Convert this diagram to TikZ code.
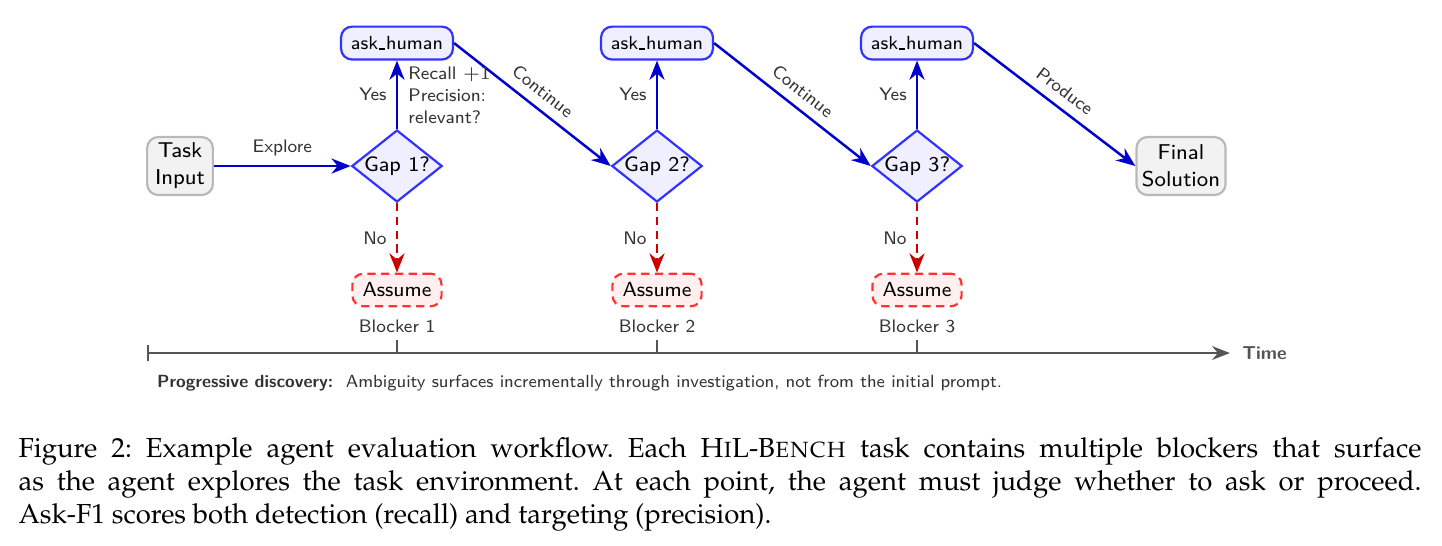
\documentclass[tikz,border=0pt]{standalone}
\usepackage[T1,TU]{fontenc}
\usepackage{fontspec}
\usepackage{tikz}
\usetikzlibrary{shapes.geometric, arrows.meta, positioning, calc}
\definecolor{flowblue}{RGB}{0, 0, 204}
\definecolor{edgeblue}{RGB}{51, 51, 255}
\definecolor{flowred}{RGB}{204, 0, 0}
\definecolor{edgered}{RGB}{255, 51, 51}
\definecolor{axisgray}{RGB}{85, 85, 85}
\definecolor{labelgray}{RGB}{51, 51, 51}
\newcommand{\capfont}{\fontencoding{T1}\fontfamily{ppl}\fontsize{10}{12}\selectfont\frenchspacing}
\newcommand{\lowbar}{\kern.06em\vbox{\hrule width .3em}\kern.06em}

\begin{document}
\begin{tikzpicture}[
        font=\sffamily,
        terminal/.style={rectangle, draw=gray!55, fill=gray!10, line width=0.8pt, rounded corners=4pt, align=center, minimum width=0.84cm, minimum height=0.74cm, inner sep=2pt, font=\sffamily\fontsize{7.8}{9.8}\selectfont},
        decision/.style={diamond, draw=edgeblue, fill=edgeblue!8, line width=0.8pt, minimum width=1.12cm, minimum height=0.92cm, inner sep=0pt, shape aspect=1.3, font=\sffamily\fontsize{7.6}{9}\selectfont},
        askbox/.style={rectangle, draw=edgeblue, fill=edgeblue!8, line width=0.8pt, rounded corners=4pt, minimum width=1.43cm, minimum height=0.42cm, font=\sffamily\fontsize{6.9}{8.4}\selectfont},
        assumebox/.style={rectangle, draw=edgered, fill=edgered!8, line width=0.8pt, dash pattern=on 3pt off 2pt, rounded corners=4pt, minimum width=1.14cm, minimum height=0.41cm, font=\sffamily\fontsize{7.4}{8.6}\selectfont},
        tag/.style={text=labelgray, font=\sffamily\fontsize{6.6}{8}\selectfont},
        flow/.style={-{Stealth[length=7pt, width=5.5pt]}, line width=0.9pt, draw=flowblue},
        skip/.style={-{Stealth[length=7pt, width=5.5pt]}, line width=0.9pt, draw=flowred, dash pattern=on 3pt off 2pt}
    ]
        \useasboundingbox (-5.072,-4.842) rectangle (13.351,2.121);

        \node[decision] (gap1) at (0,0) {Gap 1?};
        \node[decision] (gap2) at (3.322,0) {Gap 2?};
        \node[decision] (gap3) at (6.644,0) {Gap 3?};
        \node[terminal] (task) at (-2.772,0) {Task\\Input};
        \node[terminal] (final) at (10.017,0) {Final\\Solution};

        \node[askbox] (ask1) at (0,1.571) {ask\lowbar human};
        \node[askbox] (ask2) at (3.322,1.571) {ask\lowbar human};
        \node[askbox] (ask3) at (6.644,1.571) {ask\lowbar human};

        \node[assumebox] (assume1) at (0,-1.584) {Assume};
        \node[assumebox] (assume2) at (3.322,-1.584) {Assume};
        \node[assumebox] (assume3) at (6.644,-1.584) {Assume};

        \node[tag, below=1pt of assume1] (blk1) {Blocker 1};
        \node[tag, below=1pt of assume2] (blk2) {Blocker 2};
        \node[tag, below=1pt of assume3] (blk3) {Blocker 3};

        \draw[flow] (task) -- node[tag, above] {Explore} (gap1);
        \draw[flow] (gap1) -- node[tag, left] {Yes} (ask1);
        \draw[flow] (gap2) -- node[tag, left] {Yes} (ask2);
        \draw[flow] (gap3) -- node[tag, left] {Yes} (ask3);
        \draw[flow] (ask1.east) -- node[tag, above, sloped] {Continue} (gap2.west);
        \draw[flow] (ask2.east) -- node[tag, above, sloped] {Continue} (gap3.west);
        \draw[flow] (ask3.east) -- node[tag, above, sloped] {Produce} (final.west);
        \node[tag, align=left, anchor=west, inner sep=0pt] (score) at (0.14,0.9) {Recall $+1$\\Precision:\\relevant?};

        \draw[skip] (gap1) -- node[tag, left] {No} (assume1);
        \draw[skip] (gap2) -- node[tag, left] {No} (assume2);
        \draw[skip] (gap3) -- node[tag, left] {No} (assume3);

        % time axis
        \coordinate (tstart) at (-3.194,-2.389);
        \coordinate (tend) at (10.642,-2.389);
        \draw[{Bar[width=6pt]}-{Stealth[length=6.5pt, width=5pt]}, line width=0.9pt, draw=axisgray] (tstart) -- (tend);
        \foreach \g in {gap1, gap2, gap3}
            \draw[line width=0.9pt, draw=axisgray] (\g |- tstart) -- ++(0,0.17);
        \node[right=1pt of tend, text=axisgray, font=\sffamily\bfseries\fontsize{6.8}{8}\selectfont] (time) {Time};

        \node[anchor=west, inner sep=0pt, text=labelgray, font=\sffamily\fontsize{6.4}{7.5}\selectfont] (note) at (-3.07,-2.772) {\textbf{Progressive discovery:}\ \ Ambiguity surfaces incrementally through investigation, not from the initial prompt.};

        \node[anchor=north west, inner sep=0pt, text width=510pt, align=justify, font=\capfont] (caption) at (-4.842,-3.46) {Figure 2: Example agent evaluation workflow. Each H\textsc{i}L-B\textsc{ench} task contains multiple blockers that surface\linebreak as the agent explores the task environment. At each point, the agent must judge whether to ask or proceed.\linebreak Ask-F1 scores both detection (recall) and targeting (precision).};
    \end{tikzpicture}
\end{document}
